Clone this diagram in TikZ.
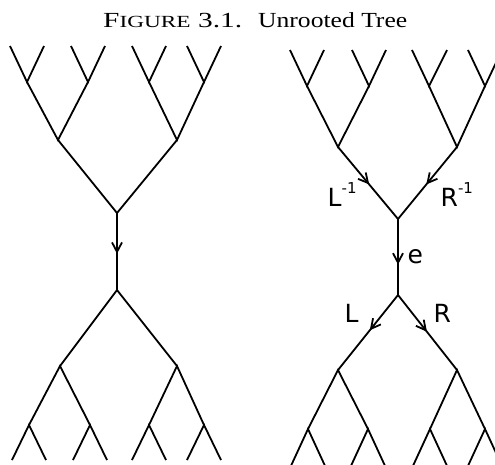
\documentclass[tikz,border=0pt]{standalone}
\usepackage{graphicx}
\usepackage{fontspec}
\setmainfont{Liberation Serif}
\newfontfamily\labfont{DejaVu Sans}
\usetikzlibrary{arrows.meta,decorations.markings}
\tikzset{
  edge/.style={line width=1.8pt, line join=miter},
  barb/.style={decoration={markings, mark=at position #1 with {\arrow{Straight Barb[length=9.5pt,width=10pt,line width=1.8pt]}}}, postaction={decorate}},
  lab/.style={font=\labfont\fontsize{25}{25}\selectfont, inner sep=0pt, anchor=base west},
  ttl/.style={inner sep=0pt, anchor=base west},
}
\newcommand{\supm}[1]{\raisebox{13pt}{\fontsize{15}{15}\selectfont #1}}
\begin{document}
\begin{tikzpicture}[x=1pt,y=-1pt]
\useasboundingbox (0,0) rectangle (495,464);
% title
\node[ttl] (t1) at (103,27) {\resizebox{139pt}{\height}{\fontsize{21.5}{21.5}\selectfont F{\fontsize{17}{17}\selectfont IGURE} 3.1.}};
\node[ttl] (t2) at (258,27) {\resizebox{149pt}{\height}{\fontsize{21.5}{21.5}\selectfont Unrooted Tree}};
\begin{scope}
\clip (0,0) rectangle (495,464);
% ---------- left tree, top ----------
\coordinate (a0) at (117,213);
\coordinate (a1) at (58,140);  \coordinate (a2) at (177,140);
\coordinate (a11) at (27,82);  \coordinate (a12) at (88,82);
\coordinate (a21) at (149,82); \coordinate (a22) at (204,82);
\coordinate (a111) at (10,46);  \coordinate (a112) at (44,46);
\coordinate (a121) at (71,46);  \coordinate (a122) at (105,46);
\coordinate (a211) at (132,46); \coordinate (a212) at (166,46);
\coordinate (a221) at (187,46); \coordinate (a222) at (221,46);
% ---------- left tree, bottom ----------
\coordinate (b0) at (117,290);
\coordinate (b1) at (60,366);  \coordinate (b2) at (177,366);
\coordinate (b11) at (29,425); \coordinate (b12) at (90,425);
\coordinate (b21) at (149,425); \coordinate (b22) at (204,425);
\coordinate (b111) at (12,460);  \coordinate (b112) at (46,460);
\coordinate (b121) at (73,460);  \coordinate (b122) at (107,460);
\coordinate (b211) at (132,460); \coordinate (b212) at (166,460);
\coordinate (b221) at (187,460); \coordinate (b222) at (221,460);
% ---------- right tree, top ----------
\coordinate (c0) at (398,219);
\coordinate (c1) at (338,147);  \coordinate (c2) at (457,147);
\coordinate (c11) at (307,86);  \coordinate (c12) at (369,86);
\coordinate (c21) at (429,86);  \coordinate (c22) at (485,86);
\coordinate (c111) at (290,50);  \coordinate (c112) at (324,50);
\coordinate (c121) at (352,50);  \coordinate (c122) at (386,50);
\coordinate (c211) at (412,50);  \coordinate (c212) at (447,50);
\coordinate (c221) at (468,50);  \coordinate (c222) at (502,50);
% ---------- right tree, bottom ----------
\coordinate (d0) at (398,295);
\coordinate (d1) at (338,370);  \coordinate (d2) at (457,370);
\coordinate (d11) at (308,429); \coordinate (d12) at (368,429);
\coordinate (d21) at (430,429); \coordinate (d22) at (485,429);
\coordinate (d111) at (290,468);  \coordinate (d112) at (326,468);
\coordinate (d121) at (350,468);  \coordinate (d122) at (386,468);
\coordinate (d211) at (412,468);  \coordinate (d212) at (448,468);
\coordinate (d221) at (467,468);  \coordinate (d222) at (503,468);
% ---------- edges ----------
\foreach \p in {a,b,c,d}{
  \draw[edge] (\p1) -- (\p0) -- (\p2);
  \draw[edge] (\p11) -- (\p1) -- (\p12);
  \draw[edge] (\p21) -- (\p2) -- (\p22);
  \draw[edge] (\p111) -- (\p11) -- (\p112);
  \draw[edge] (\p121) -- (\p12) -- (\p122);
  \draw[edge] (\p211) -- (\p21) -- (\p212);
  \draw[edge] (\p221) -- (\p22) -- (\p222);
}
\draw[edge, barb=0.53] (a0) -- (b0);
\draw[edge, barb=0.6] (c0) -- (d0);
\path[barb=0.52] (c1) -- (c0);
\path[barb=0.52] (c2) -- (c0);
\path[barb=0.47] (d0) -- (d1);
\path[barb=0.49] (d0) -- (d2);
\end{scope}
% labels
\node[lab] (linv) at (327.5,206) {L\supm{-1}};
\node[lab] (rinv) at (440.5,206) {R\supm{-1}};
\node[lab] (elab) at (407.5,263) {e};
\node[lab] (llab) at (344.5,322) {L};
\node[lab] (rlab) at (433.5,322) {R};
\end{tikzpicture}
\end{document}
